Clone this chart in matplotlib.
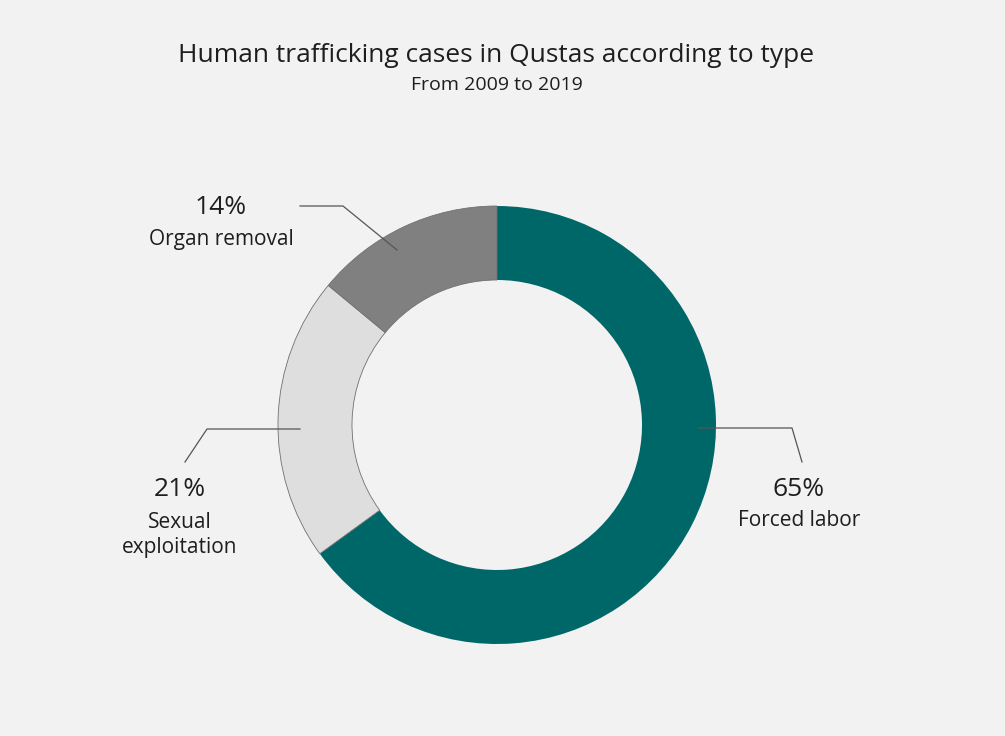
import matplotlib.pyplot as plt

W, H = 1005, 736

# data
categories = ['Forced labor', 'Sexual\nexploitation', 'Organ removal']
shares = [65, 21, 14]
colors = ['#006769', '#dedede', '#808080']

title = 'Human trafficking cases in Qustas according to type'
subtitle = 'From 2009 to 2019'

plt.rcParams['font.family'] = ['Open Sans', 'DejaVu Sans']

fig = plt.figure(figsize=(W / 100, H / 100), dpi=100, facecolor='#f2f2f2')
ax = fig.add_axes([0, 0, 1, 1])


def Y(py):
    # pixel row (from top) -> data y
    return H - py


cx, cy, r_out, ring = 497, 425, 219, 74
wedges, _ = ax.pie(shares, colors=colors, startangle=90, counterclock=False,
                   center=(cx, Y(cy)), radius=r_out, frame=True,
                   wedgeprops=dict(width=ring, linewidth=0))
for w in wedges[1:]:
    w.set_edgecolor('#707070')
    w.set_linewidth(0.6)
ax.set_xlim(0, W)
ax.set_ylim(0, H)
ax.set_aspect('equal')
ax.axis('off')

fig.text(0.494, 1 - 55 / H, title, ha='center', va='center', fontsize=19, color='#1e1e1e')
fig.text(0.494, 1 - 85 / H, subtitle, ha='center', va='center', fontsize=14, color='#1e1e1e')

# leader lines (pixel paths)
leaders = [
    [(698, 428), (792, 428), (802, 462)],
    [(300, 429), (207, 429), (185, 462)],
    [(397, 250), (343, 206), (300, 206)],
]
for path in leaders:
    xs = [p[0] for p in path]
    ys = [Y(p[1]) for p in path]
    ax.plot(xs, ys, color='#555555', lw=0.9)

# labels: (x, y of percent, y of name)
label_pos = [(799, 490, 520), (180, 490, 535), (221, 208, 240)]
for cat, val, (lx, py, ny) in zip(categories, shares, label_pos):
    ax.text(lx, Y(py), f'{val}%', ha='center', va='center', fontsize=19, color='#1e1e1e')
    ax.text(lx, Y(ny), cat, ha='center', va='center', fontsize=15, color='#1e1e1e',
            linespacing=1.3)

fig.savefig('out.png', dpi=100, facecolor=fig.get_facecolor())
